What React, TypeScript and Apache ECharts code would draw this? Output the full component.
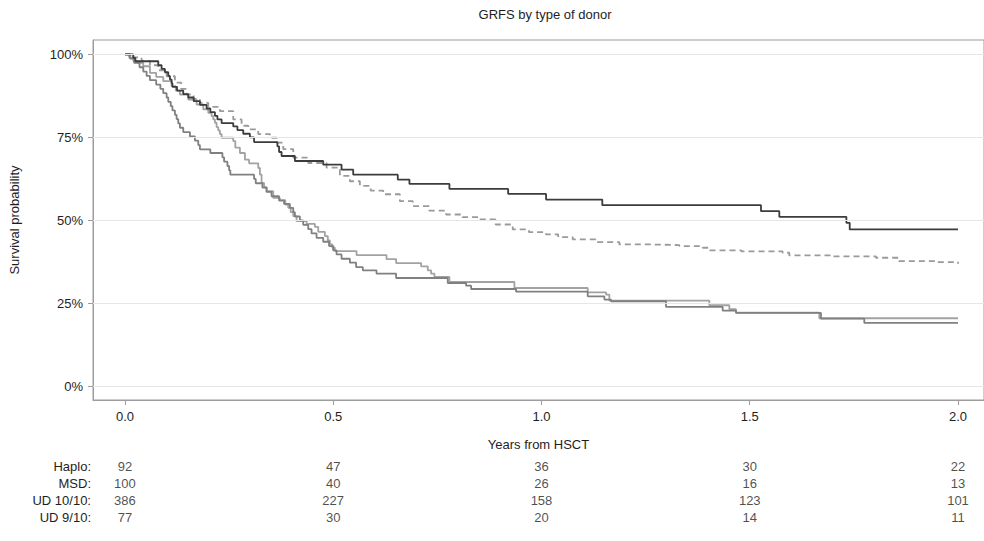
import React, { useEffect, useRef } from 'react';
import * as echarts from 'echarts';

const chartTitle = 'GRFS by type of donor';
const xAxisName = 'Years from HSCT';
const yAxisName = 'Survival probability';
const xTicks = [0, 0.5, 1, 1.5, 2];
const yTicks = [0, 25, 50, 75, 100];

// Kaplan-Meier step points [years, survival %]
const haplo: [number, number][] = [
  [0, 100], [0.02, 98.9], [0.025, 97.9], [0.08, 96.7], [0.088, 95.6], [0.096, 94.6], [0.104, 93.5],
  [0.108, 92.4], [0.112, 91.3], [0.114, 90.2], [0.125, 89.1], [0.14, 88.0], [0.152, 87.0],
  [0.165, 85.9], [0.18, 84.8], [0.196, 83.7], [0.205, 82.6], [0.216, 81.5], [0.222, 80.4],
  [0.232, 79.3], [0.26, 78.3], [0.27, 77.2], [0.284, 76.1], [0.3, 75.0], [0.31, 73.6],
  [0.366, 72.3], [0.37, 70.6], [0.376, 69.4], [0.408, 67.9], [0.476, 66.8], [0.52, 65.3],
  [0.548, 63.8], [0.655, 62.3], [0.683, 61.0], [0.779, 59.5], [0.92, 58.0], [1.011, 56.3],
  [1.146, 54.6], [1.527, 52.8], [1.571, 51.1], [1.732, 49.3], [1.74, 47.3], [2.0, 47.3],
];

const msd: [number, number][] = [
  [0, 100], [0.012, 98.7], [0.022, 97.4], [0.035, 96.1], [0.044, 94.8], [0.052, 93.5], [0.06, 92.2],
  [0.075, 90.9], [0.085, 89.6], [0.092, 88.3], [0.1, 87.0], [0.104, 85.7], [0.11, 84.4],
  [0.114, 83.1], [0.12, 81.8], [0.124, 80.5], [0.128, 79.2], [0.132, 77.9], [0.14, 76.6],
  [0.156, 75.3], [0.168, 74.0], [0.176, 72.7], [0.18, 71.4], [0.205, 70.3], [0.234, 69.0],
  [0.238, 67.7], [0.246, 66.4], [0.25, 65.1], [0.253, 63.8], [0.31, 62.5], [0.314, 61.2],
  [0.33, 59.9], [0.34, 58.6], [0.352, 57.3], [0.37, 56.0], [0.382, 55.0], [0.396, 53.8],
  [0.404, 52.5], [0.408, 51.2], [0.42, 50.0], [0.428, 48.7], [0.44, 47.4], [0.448, 46.1],
  [0.46, 44.8], [0.476, 43.6], [0.49, 42.3], [0.5, 41.0], [0.508, 39.8], [0.52, 38.5],
  [0.54, 37.3], [0.555, 36.0], [0.571, 35.0], [0.604, 34.0], [0.651, 32.7], [0.775, 31.2],
  [0.819, 30.4], [0.831, 29.4], [0.939, 28.6], [1.111, 27.2], [1.151, 26.2], [1.167, 25.7],
  [1.299, 24.0], [1.435, 22.9], [1.467, 22.2], [1.671, 20.5], [1.775, 19.2], [2.0, 19.2],
];

const ud1010: [number, number][] = [
  [0, 100], [0.02, 99.1], [0.04, 98.0], [0.06, 96.7], [0.08, 95.2], [0.1, 93.4], [0.12, 91.5],
  [0.135, 89.6], [0.148, 87.9], [0.165, 86.6], [0.18, 85.4], [0.2, 84.2], [0.228, 82.9],
  [0.26, 80.4], [0.28, 78.5], [0.296, 77.4], [0.32, 76.0], [0.348, 74.9], [0.364, 73.4],
  [0.38, 71.5], [0.404, 68.9], [0.44, 67.3], [0.484, 65.9], [0.516, 63.4], [0.54, 61.8],
  [0.564, 60.4], [0.59, 59.0], [0.62, 57.9], [0.66, 55.8], [0.691, 54.3], [0.73, 53.0],
  [0.771, 51.8], [0.81, 51.0], [0.851, 50.3], [0.89, 48.8], [0.931, 47.3], [0.97, 46.5],
  [1.011, 45.8], [1.04, 45.0], [1.075, 44.3], [1.13, 43.5], [1.187, 42.8], [1.26, 42.6],
  [1.331, 42.3], [1.387, 41.8], [1.403, 41.0], [1.48, 40.7], [1.579, 40.3], [1.595, 39.5],
  [1.7, 39.2], [1.803, 38.8], [1.858, 37.8], [1.95, 37.5], [2.0, 37.0],
];

const ud910: [number, number][] = [
  [0, 100], [0.01, 99.0], [0.02, 98.0], [0.03, 97.4], [0.044, 96.4], [0.06, 94.4], [0.075, 93.2],
  [0.092, 91.9], [0.112, 90.4], [0.122, 89.1], [0.132, 87.9], [0.152, 86.4], [0.172, 84.9],
  [0.188, 83.4], [0.2, 82.4], [0.208, 81.4], [0.212, 80.4], [0.216, 79.4], [0.22, 78.1],
  [0.224, 77.1], [0.228, 76.0], [0.232, 74.9], [0.26, 73.9], [0.265, 71.9], [0.276, 70.3],
  [0.288, 68.3], [0.298, 67.2], [0.32, 65.8], [0.324, 63.8], [0.328, 61.3], [0.334, 60.0],
  [0.34, 58.8], [0.356, 56.8], [0.372, 56.1], [0.385, 54.8], [0.392, 53.8], [0.398, 52.5],
  [0.404, 51.3], [0.412, 49.8], [0.436, 49.0], [0.456, 48.1], [0.464, 46.6], [0.48, 45.3],
  [0.487, 44.0], [0.492, 42.8], [0.498, 41.8], [0.504, 40.8], [0.556, 39.6], [0.628, 38.4],
  [0.651, 37.2], [0.711, 36.2], [0.727, 35.0], [0.735, 34.0], [0.743, 33.0], [0.779, 31.5],
  [0.935, 29.7], [1.111, 28.4], [1.155, 27.7], [1.163, 25.9], [1.403, 24.5], [1.451, 23.3],
  [1.467, 22.3], [1.667, 20.6], [2.0, 20.6],
];

// Number at risk table
const riskLabels = ['Haplo:', 'MSD:', 'UD 10/10:', 'UD 9/10:'];
const riskHaplo = [92, 47, 36, 30, 22];
const riskMSD = [100, 40, 26, 16, 13];
const riskUD1010 = [386, 227, 158, 123, 101];
const riskUD910 = [77, 30, 20, 14, 11];

const FONT = '"Liberation Sans", Arial, Helvetica, sans-serif';
const TEXT = '#1e1e1e';

export default function App() {
  const ref = useRef<HTMLDivElement>(null);
  useEffect(() => {
    if (!ref.current) return;
    const chart = echarts.init(ref.current, undefined, { renderer: 'svg' });
    const xMin = -0.0767;
    const xMax = 2.0624;
    const riskRows = [riskHaplo, riskMSD, riskUD1010, riskUD910];
    const riskData: any[] = [];
    riskRows.forEach((row, r) => row.forEach((n, i) => riskData.push([xTicks[i], riskLabels[r], n])));

    const lineBase = { type: 'line', step: 'end', showSymbol: false, symbol: 'none', xAxisIndex: 0, yAxisIndex: 0, z: 3, silent: true };

    chart.setOption({
      animation: false,
      textStyle: { fontFamily: FONT },
      title: {
        text: chartTitle, left: 540, top: 3, textAlign: 'center',
        textStyle: { fontSize: 13, fontWeight: 'normal', color: TEXT, fontFamily: FONT },
      },
      grid: [
        { left: 93, right: -1, top: 40, bottom: 141, show: true, borderColor: '#9c9c9c', borderWidth: 1, containLabel: false },
        { left: 93, right: -1, top: 458, height: 68, containLabel: false },
      ],
      xAxis: [
        {
          type: 'value', gridIndex: 0, min: xMin, max: xMax,
          name: xAxisName, nameLocation: 'middle', nameGap: 38,
          nameTextStyle: { fontSize: 13, color: TEXT, fontFamily: FONT },
          axisLine: { show: true, onZero: false, lineStyle: { color: '#9c9c9c', width: 1 } },
          axisTick: { show: true, customValues: xTicks, length: 5, lineStyle: { color: '#9c9c9c' } },
          axisLabel: { customValues: xTicks, formatter: (v: number) => v.toFixed(1), fontSize: 13, color: TEXT, margin: 10, fontFamily: FONT },
          splitLine: { show: false },
        },
        {
          type: 'value', gridIndex: 1, min: xMin, max: xMax, show: false,
        },
      ],
      yAxis: [
        {
          type: 'value', gridIndex: 0, min: -4.0, max: 104.3,
          name: yAxisName, nameLocation: 'middle', nameGap: 72,
          nameTextStyle: { fontSize: 13, color: TEXT, fontFamily: FONT },
          axisLine: { show: true, onZero: false, lineStyle: { color: '#9c9c9c', width: 1 } },
          axisTick: { show: true, customValues: yTicks, length: 5, lineStyle: { color: '#9c9c9c' } },
          axisLabel: { customValues: yTicks, formatter: (v: number) => v + '%', fontSize: 13, color: TEXT, margin: 10, fontFamily: FONT },
          splitLine: { show: false },
        },
        {
          type: 'category', gridIndex: 1, data: riskLabels, inverse: true,
          axisLine: { show: false }, axisTick: { show: false },
          axisLabel: { fontSize: 13, color: TEXT, margin: 2, fontFamily: FONT },
          splitLine: { show: false },
        },
      ],
      series: [
        {
          type: 'line', data: [], xAxisIndex: 0, yAxisIndex: 0, z: 1, silent: true,
          markLine: {
            silent: true, symbol: ['none', 'none'], label: { show: false },
            lineStyle: { color: '#e6e6e6', type: 'solid', width: 1.2 },
            emphasis: { disabled: true },
            data: yTicks.map((v) => ({ yAxis: v })),
          },
        },
        { ...lineBase, name: 'UD 10/10', data: ud1010, lineStyle: { color: '#9a9a9a', width: 1.8, type: [6, 4] } },
        { ...lineBase, name: 'UD 9/10', data: ud910, lineStyle: { color: '#a2a2a2', width: 1.8 } },
        { ...lineBase, name: 'MSD', data: msd, lineStyle: { color: '#808080', width: 1.8 } },
        { ...lineBase, name: 'Haplo', data: haplo, lineStyle: { color: '#3c3c3c', width: 1.8 } },
        {
          type: 'scatter', xAxisIndex: 1, yAxisIndex: 1, data: riskData, symbolSize: 0, silent: true,
          label: { show: true, position: 'inside', fontSize: 13, color: TEXT, fontFamily: FONT, formatter: (p: any) => String(p.value[2]) },
        },
      ],
    });
    return () => chart.dispose();
  }, []);
  return <div ref={ref} style={{ position: 'fixed', left: 0, top: 0, width: 984, height: 541, background: '#fff' }} />;
}
